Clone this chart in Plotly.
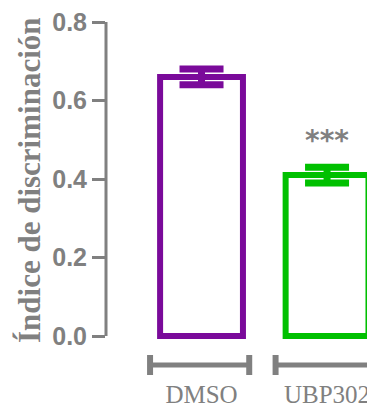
import plotly.graph_objects as go

# ---- data ----
categories = ["DMSO", "UBP302"]
means = [0.66, 0.41]
errors = [0.02, 0.02]
bar_colors = ["#7a0a9a", "#00c000"]
significance = ["", "***"]
y_ticks = [0.0, 0.2, 0.4, 0.6, 0.8]
y_title = "Índice de discriminación"

GRAY = "#808080"

# the page body adds an 8px offset; the figure is sized to fill the rest
W, H = 367, 401
L, T, B = 98, 14, 69
plot_w = W - L
plot_h = H - T - B

fig = go.Figure()
for cat, m, e, c in zip(categories, means, errors, bar_colors):
    fig.add_trace(go.Bar(
        x=[cat], y=[m],
        width=0.66,
        marker=dict(color="white", line=dict(color=c, width=6)),
        error_y=dict(type="data", array=[e], visible=True,
                     color=c, thickness=7, width=22),
        showlegend=False,
    ))

# significance stars
for cat, m, e, s in zip(categories, means, errors, significance):
    if s:
        fig.add_annotation(x=cat, y=m + e + 0.067, xref="x", yref="y",
                           text=s, showarrow=False, yanchor="middle",
                           font=dict(family="DejaVu Sans", size=28, color=GRAY, weight="bold"))

# y axis line from 0 to max tick
fig.add_shape(type="line", xref="paper", yref="y", x0=0, x1=0,
              y0=y_ticks[0], y1=y_ticks[-1], line=dict(color=GRAY, width=3))

# Prism-style segmented x axis under each category
seg_y = -25 / plot_h
tick_top = -15 / plot_h
tick_bot = -35 / plot_h
for i, cat in enumerate(categories):
    x0, x1 = i - 0.41, i + 0.38
    fig.add_shape(type="line", xref="x", yref="paper", x0=x0, x1=x1,
                  y0=seg_y, y1=seg_y, line=dict(color=GRAY, width=5))
    for xx in (x0, x1):
        fig.add_shape(type="line", xref="x", yref="paper", x0=xx, x1=xx,
                      y0=tick_top, y1=tick_bot, line=dict(color=GRAY, width=6))

# y-axis title
fig.add_annotation(xref="paper", yref="paper", x=(21 - L) / plot_w,
                   y=(plot_h + T - 172) / plot_h,
                   text=y_title, textangle=-90, showarrow=False,
                   xanchor="center", yanchor="middle",
                   font=dict(family="Liberation Serif", size=31, color=GRAY, weight="bold"))

fig.update_layout(
    width=W, height=H,
    margin=dict(l=L, r=0, t=T, b=B, pad=0, autoexpand=False),
    plot_bgcolor="white", paper_bgcolor="white",
)
fig.update_xaxes(
    type="category", categoryorder="array", categoryarray=categories,
    range=[-0.761, 1.382], automargin=False,
    showline=False, showgrid=False, zeroline=False, ticks="",
    ticklabelstandoff=37, ticklabeloverflow="allow",
    tickfont=dict(family="Liberation Serif", size=25, color=GRAY),
)
fig.update_yaxes(
    range=[-0.01, 0.8], automargin=False,
    tickvals=y_ticks, ticktext=[f"{v:.1f}" for v in y_ticks],
    ticks="outside", ticklen=13, tickwidth=3, tickcolor=GRAY,
    showline=False, showgrid=False, zeroline=False,
    ticklabeloverflow="allow",
    tickfont=dict(family="Liberation Sans", size=25, color=GRAY, weight="bold"),
)

fig.write_html("out.html")
